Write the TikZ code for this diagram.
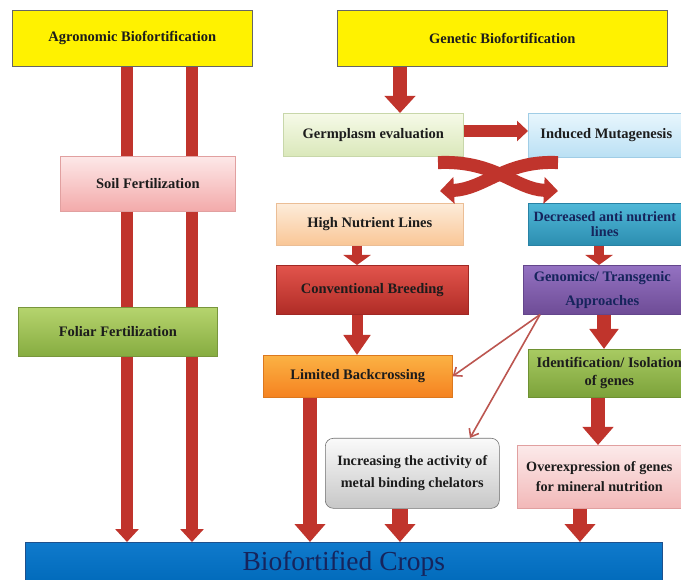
\documentclass[tikz,border=0pt]{standalone}
\usepackage{fontspec}
\setmainfont{Liberation Serif}
\usetikzlibrary{arrows.meta}
\definecolor{arr}{RGB}{192,52,44}
\definecolor{thinarr}{RGB}{188,86,80}
\definecolor{txt}{RGB}{28,28,28}
\definecolor{navy}{RGB}{22,36,92}
\begin{document}
\begin{tikzpicture}[x=1pt,y=-1pt,
  box/.style={line width=0.6pt, inner sep=1pt, align=center, anchor=north west,
    font=\fontsize{14.5}{20}\selectfont\bfseries, text=txt},
  fat/.style n args={4}{draw=arr, line width=#1pt,
    -{Triangle[length=#3pt,width=#2pt]}, shorten >=0pt, line cap=butt},
  bar/.style={draw=arr, line width=#1pt, line cap=butt},
  thin/.style={draw=thinarr, line width=1.6pt, -{Straight Barb[length=7pt,width=11pt]}}
]
\clip (0,0) rectangle (681,580);
\fill[white] (0,0) rectangle (681,580);

% boxes
\node[box, draw=black!60, fill=yellow, minimum width=240pt, minimum height=56pt] (agro) at (12,10) {Agronomic Biofortification};
\node[box, draw=black!60, fill=yellow, minimum width=330pt, minimum height=56pt] (gen) at (337,10) {Genetic Biofortification};
\node[box, draw={rgb,255:red,225;green,160;blue,160}, top color={rgb,255:red,253;green,232;blue,232}, bottom color={rgb,255:red,243;green,170;blue,170}, minimum width=175pt, minimum height=55pt] (soil) at (60,156) {Soil Fertilization};
\node[box, draw={rgb,255:red,120;green,150;blue,60}, top color={rgb,255:red,182;green,212;blue,110}, bottom color={rgb,255:red,134;green,172;blue,64}, minimum width=199pt, minimum height=49pt] (foliar) at (18,307) {Foliar Fertilization};
\node[box, draw={rgb,255:red,200;green,215;blue,170}, top color={rgb,255:red,246;green,250;blue,232}, bottom color={rgb,255:red,218;green,232;blue,186}, minimum width=180pt, minimum height=43pt] (germ) at (283,113) {Germplasm evaluation};
\node[box, draw={rgb,255:red,160;green,205;blue,230}, top color={rgb,255:red,232;green,246;blue,253}, bottom color={rgb,255:red,186;green,224;blue,244}, minimum width=156pt, minimum height=44pt] (ind) at (528,113) {Induced Mutagenesis};
\node[box, draw={rgb,255:red,235;green,190;blue,150}, top color={rgb,255:red,253;green,236;blue,218}, bottom color={rgb,255:red,249;green,198;blue,150}, minimum width=187pt, minimum height=42pt] (hn) at (276,203) {High Nutrient Lines};
\node[box, draw={rgb,255:red,40;green,130;blue,165}, top color={rgb,255:red,80;green,184;blue,216}, bottom color={rgb,255:red,44;green,142;blue,176}, minimum width=153pt, minimum height=42pt, font=\fontsize{14.2}{14.5}\selectfont\bfseries, text=navy] (dec) at (528,203) {Decreased anti nutrient\\lines};
\node[box, draw={rgb,255:red,160;green,40;blue,36}, top color={rgb,255:red,226;green,84;blue,76}, bottom color={rgb,255:red,176;green,44;blue,38}, minimum width=192pt, minimum height=49pt] (cb) at (276,265) {Conventional Breeding};
\node[box, draw={rgb,255:red,100;green,70;blue,140}, top color={rgb,255:red,148;green,114;blue,194}, bottom color={rgb,255:red,110;green,76;blue,150}, minimum width=158pt, minimum height=49pt, font=\fontsize{14.5}{24}\selectfont\bfseries, text=navy] (geno) at (523,265) {Genomics/ Transgenic\\Approaches};
\node[box, draw={rgb,255:red,220;green,120;blue,30}, top color={rgb,255:red,251;green,178;blue,68}, bottom color={rgb,255:red,245;green,130;blue,32}, minimum width=189pt, minimum height=42pt] (lb) at (263,355) {Limited Backcrossing};
\node[box, draw={rgb,255:red,110;green,145;blue,50}, top color={rgb,255:red,168;green,202;blue,98}, bottom color={rgb,255:red,124;green,162;blue,58}, minimum width=162pt, minimum height=48pt, font=\fontsize{14.5}{18}\selectfont\bfseries] (idg) at (528,349) {Identification/ Isolation\\of genes};
\node[box, draw=black!55, rounded corners=8pt, top color=black!2, bottom color=black!22, minimum width=174pt, minimum height=70pt, font=\fontsize{14.2}{22}\selectfont\bfseries] (inc) at (325,438) {Increasing the activity of\\metal binding chelators};
\node[box, draw={rgb,255:red,225;green,160;blue,160}, top color={rgb,255:red,252;green,234;blue,234}, bottom color={rgb,255:red,242;green,184;blue,184}, minimum width=164pt, minimum height=63pt, font=\fontsize{14.2}{20}\selectfont\bfseries] (over) at (517,445) {Overexpression of genes\\for mineral nutrition};
\node[box, draw={rgb,255:red,30;green,80;blue,140}, top color={rgb,255:red,16;green,122;blue,204}, bottom color={rgb,255:red,0;green,106;blue,186}, minimum width=637pt, minimum height=42pt, font=\fontsize{27.5}{30}\selectfont, text=navy] (crops) at (25,542) {Biofortified Crops};

% agronomic columns
\foreach \cx in {127,192}{
  \draw[bar=12] (\cx,0 |- agro.south) -- (\cx,0 |- soil.north);
  \draw[bar=12] (\cx,0 |- soil.south) -- (\cx,0 |- foliar.north);
  \draw[fat={12}{23}{13}{}] (\cx,0 |- foliar.south) -- (\cx,0 |- crops.north);
}

% genetic branch
\draw[fat={14}{30}{17}{}] (400,0 |- gen.south) -- (400,0 |- germ.north);
\draw[fat={12}{20}{11}{}] (germ.east |- 0,131) -- (ind.west |- 0,131);
\draw[fat={13}{26}{14}{}] (germ.south -| 438,0) ++(0,6) .. controls (495,160) and (515,189) .. (558,191);
\draw[fat={13}{26}{14}{}] (ind.south -| 558,0) ++(0,5) .. controls (505,160) and (485,189) .. (440,191);
\draw[fat={10}{27}{10}{}] (357,0 |- hn.south) -- (357,0 |- cb.north);
\draw[fat={10}{27}{10}{}] (599,0 |- dec.south) -- (599,0 |- geno.north);
\draw[fat={11}{26}{20}{}] (357,0 |- cb.south) -- (357,0 |- lb.north);
\draw[fat={14}{28}{20}{}] (604,0 |- geno.south) -- (604,0 |- idg.north);
\draw[fat={14}{30}{18}{}] (598,0 |- idg.south) -- (598,0 |- over.north);
\draw[fat={14}{30}{18}{}] (310,0 |- lb.south) -- (310,0 |- crops.north);
\draw[fat={16}{30}{18}{}] (400,0 |- inc.south) -- (400,0 |- crops.north);
\draw[fat={14}{30}{18}{}] (580,0 |- over.south) -- (580,0 |- crops.north);

% thin arrows
\draw[thin] ([xshift=17pt]geno.south west) -- (lb.east);
\draw[thin] ([xshift=17pt]geno.south west) -- (inc.north -| 470,0);
\end{tikzpicture}
\end{document}
